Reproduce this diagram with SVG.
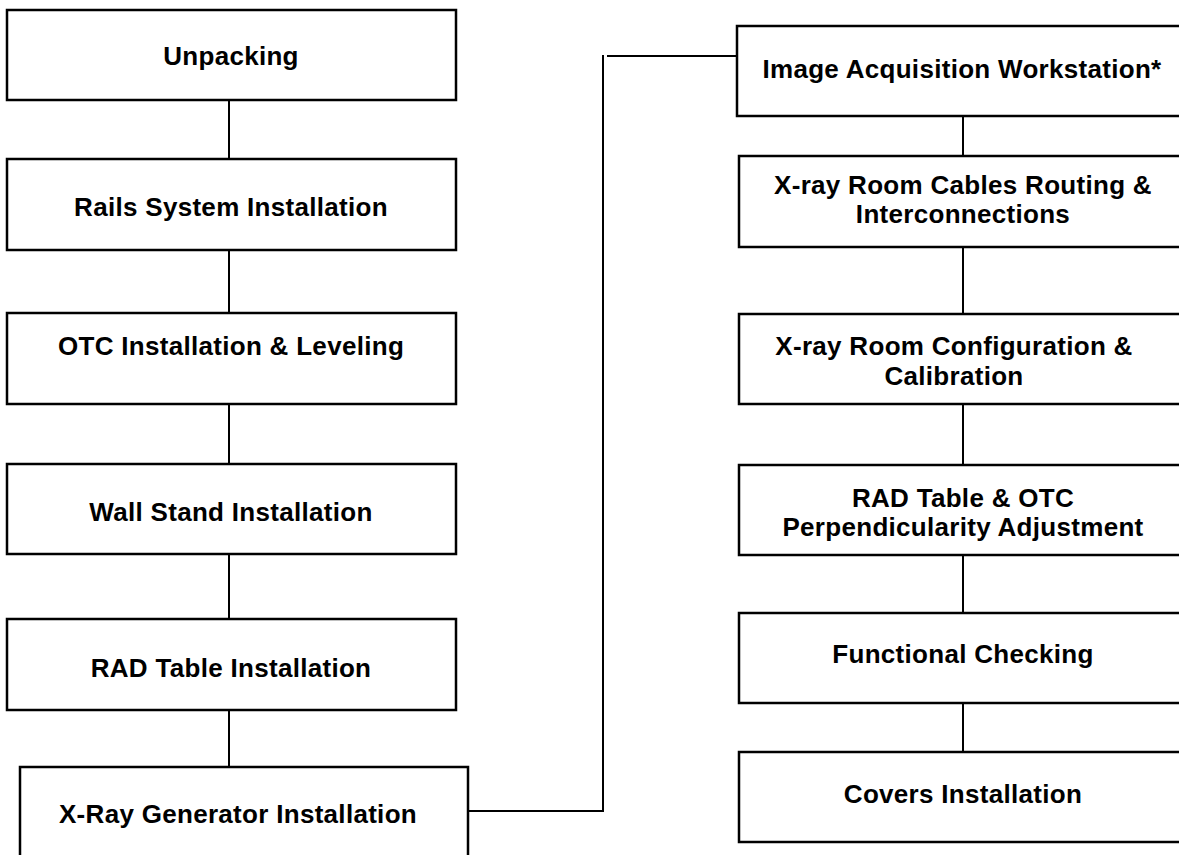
<svg xmlns="http://www.w3.org/2000/svg" width="1179" height="855" viewBox="0 0 1179 855">
<style>
.box{fill:#fff;stroke:#000;stroke-width:2.5}
.lbl{font-family:"Liberation Sans",Arial,Helvetica,sans-serif;font-weight:bold;font-size:26px;letter-spacing:0.3px;fill:#000;text-anchor:middle}
.con{fill:none;stroke:#000;stroke-width:2}
</style>
<rect width="1179" height="855" fill="#fff"/>
<g id="connectors">
<path class="con" d="M229 100V159"/>
<path class="con" d="M229 250V313"/>
<path class="con" d="M229 404V464"/>
<path class="con" d="M229 554V619"/>
<path class="con" d="M229 710V767"/>
<path class="con" d="M468 811H603V55"/>
<path class="con" d="M607 56H737"/>
<path class="con" d="M963 116V156"/>
<path class="con" d="M963 247V314"/>
<path class="con" d="M963 404V465"/>
<path class="con" d="M963 555V613"/>
<path class="con" d="M963 703V752"/>
</g>
<g id="n-unpacking"><rect class="box" x="7" y="10" width="449" height="90"/><text class="lbl" x="231" y="65">Unpacking</text></g>
<g id="n-rails"><rect class="box" x="7" y="159" width="449" height="91"/><text class="lbl" x="231" y="216">Rails System Installation</text></g>
<g id="n-otc"><rect class="box" x="7" y="313" width="449" height="91"/><text class="lbl" x="231" y="355">OTC Installation &amp; Leveling</text></g>
<g id="n-wallstand"><rect class="box" x="7" y="464" width="449" height="90"/><text class="lbl" x="231" y="521">Wall Stand Installation</text></g>
<g id="n-radtable"><rect class="box" x="7" y="619" width="449" height="91"/><text class="lbl" x="231" y="677">RAD Table Installation</text></g>
<g id="n-generator"><rect class="box" x="20" y="767" width="448" height="100"/><text class="lbl" x="238" y="823">X-Ray Generator Installation</text></g>
<g id="n-workstation"><rect class="box" x="737" y="26" width="460" height="90"/><text class="lbl" x="962" y="78">Image Acquisition Workstation*</text></g>
<g id="n-cables"><rect class="box" x="739" y="156" width="460" height="91"/><text class="lbl" x="963" y="194">X-ray Room Cables Routing &amp;</text><text class="lbl" x="963" y="223">Interconnections</text></g>
<g id="n-config"><rect class="box" x="739" y="314" width="460" height="90"/><text class="lbl" x="954" y="355">X-ray Room Configuration &amp;</text><text class="lbl" x="954" y="385">Calibration</text></g>
<g id="n-perp"><rect class="box" x="739" y="465" width="460" height="90"/><text class="lbl" x="963" y="507">RAD Table &amp; OTC</text><text class="lbl" x="963" y="536">Perpendicularity Adjustment</text></g>
<g id="n-functional"><rect class="box" x="739" y="613" width="460" height="90"/><text class="lbl" x="963" y="663">Functional Checking</text></g>
<g id="n-covers"><rect class="box" x="739" y="752" width="460" height="90"/><text class="lbl" x="963" y="803">Covers Installation</text></g>
</svg>
